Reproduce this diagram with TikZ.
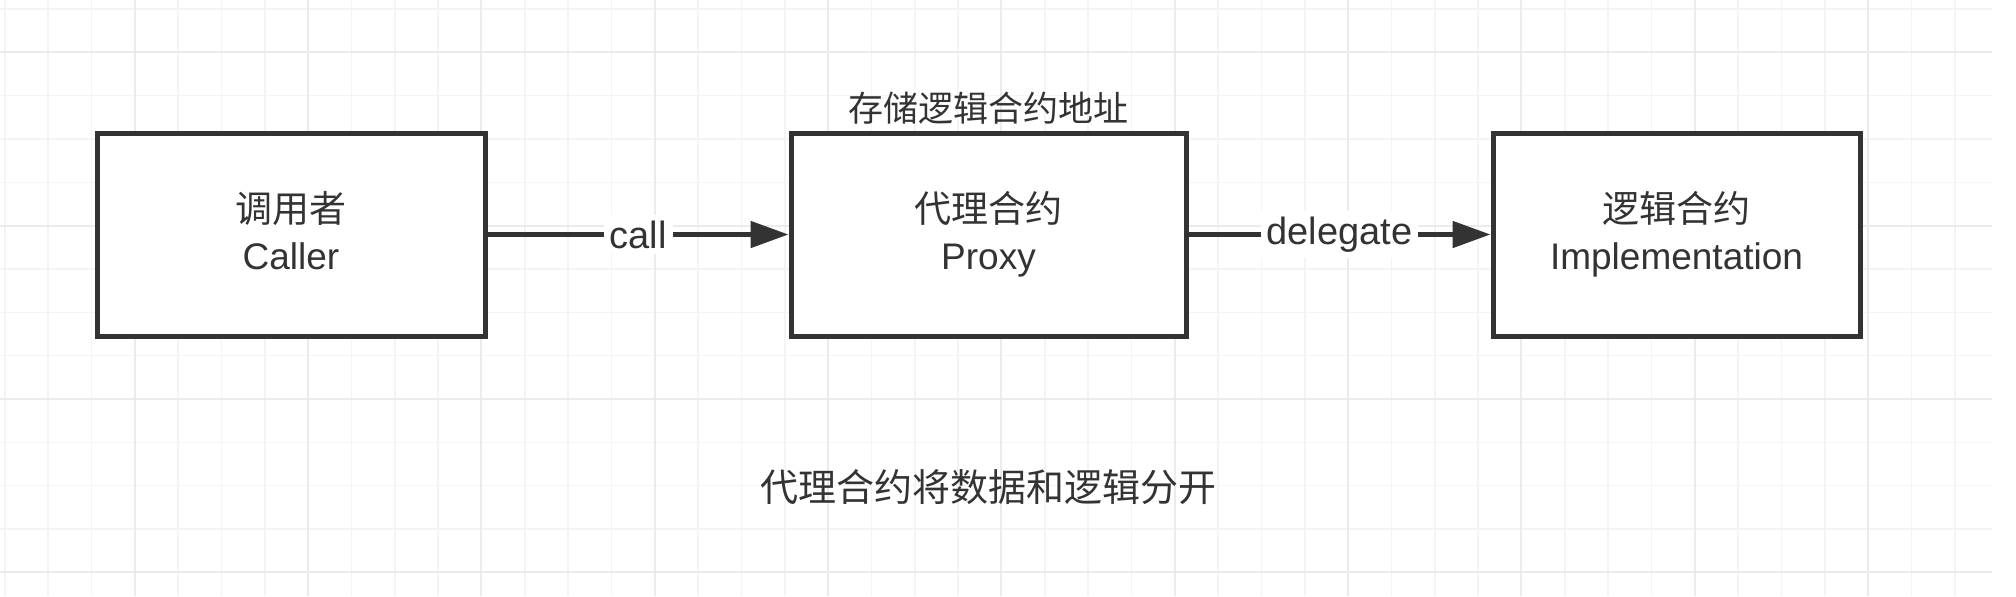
\documentclass[tikz,border=0pt]{standalone}
\usepackage{fontspec}
\setmainfont{Liberation Sans}
\newfontfamily\cjk{Noto Sans CJK SC}
\usetikzlibrary{arrows.meta}
\definecolor{ink}{HTML}{333333}
\definecolor{gridminor}{HTML}{F4F4F4}
\definecolor{gridmajor}{HTML}{EBEBEB}
\tikzset{
  minorline/.style={draw=gridminor,line width=0.8pt},
  majorline/.style={draw=gridmajor,line width=0.9pt},
  box/.style={draw=ink,fill=white,line width=2.5pt,rectangle,minimum height=101.5pt,
    align=center,text=ink,font=\fontsize{18.5pt}{23.5pt}\selectfont,inner sep=0pt},
  conn/.style={draw=ink,line width=2.5pt,-{Triangle[length=19pt,width=13pt]}},
  lbl/.style={fill=white,text=ink,font=\fontsize{19pt}{22pt}\selectfont,inner sep=3pt},
  note/.style={text=ink,inner sep=0pt},
}
\begin{document}
\begin{tikzpicture}[x=0.5pt,y=-0.5pt]
\useasboundingbox[fill=white] (0,0) rectangle (2016,596);
% grid
\foreach \k in {0,...,45}{
  \pgfmathsetmacro\xx{4.7+43.333*\k}
  \draw[minorline] (\xx,0) -- (\xx,596);
}
\foreach \k in {0,...,13}{
  \pgfmathsetmacro\yy{9+43.333*\k}
  \draw[minorline] (0,\yy) -- (1992,\yy);
}
\foreach \k in {3,7,...,43}{
  \pgfmathsetmacro\xx{4.7+43.333*\k}
  \draw[majorline] (\xx,0) -- (\xx,596);
}
\foreach \k in {1,5,9,13}{
  \pgfmathsetmacro\yy{9+43.333*\k}
  \draw[majorline] (0,\yy) -- (1992,\yy);
}
% boxes
\node[box,minimum width=194pt] (caller) at (291,234.5) {{\cjk 调用者}\\Caller\vphantom{y}};
\node[box,minimum width=197.5pt] (proxy) at (988.5,234.5) {{\cjk 代理合约}\\Proxy};
\node[box,minimum width=183.5pt] (impl) at (1676.5,234.5) {{\cjk 逻辑合约}\\Implementation};
% connectors
\draw[conn] (caller.east) -- node[lbl]{call} (proxy.west);
\draw[conn] (proxy.east) -- node[lbl]{delegate} (impl.west);
% notes
\node[note,font=\cjk\fontsize{17.5pt}{20pt}\selectfont] (store) at (988.5,108) {存储逻辑合约地址};
\node[note,font=\cjk\fontsize{19pt}{22pt}\selectfont] (caption) at (988,487) {代理合约将数据和逻辑分开};
\end{tikzpicture}
\end{document}
